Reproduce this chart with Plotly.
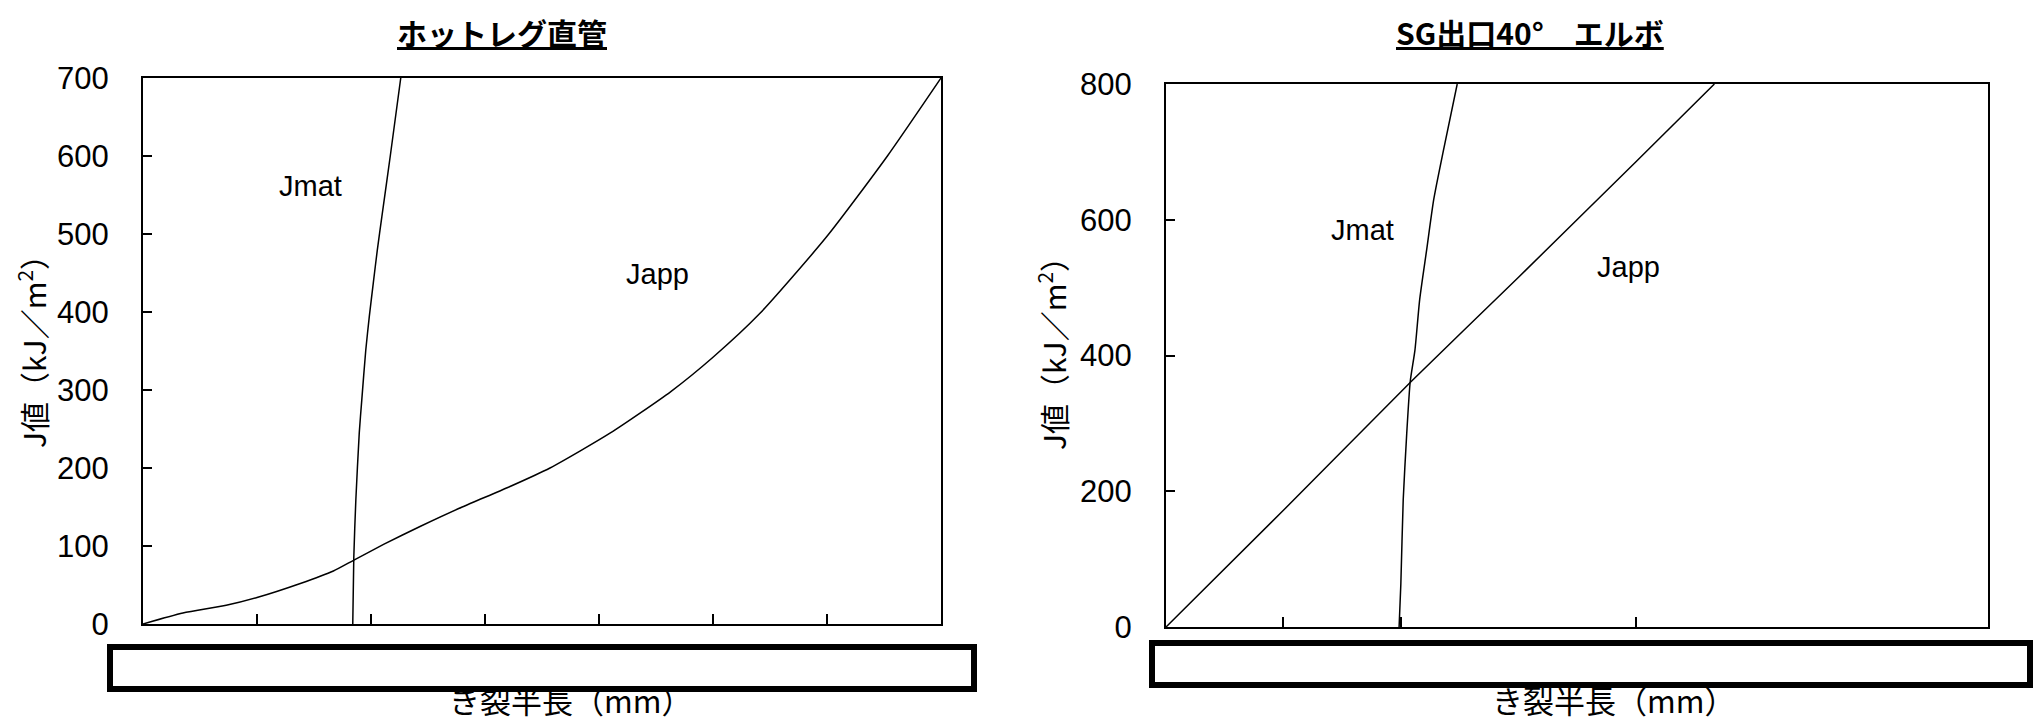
import plotly.graph_objects as go

W, H = 2042, 724
OFF = 8  # the page body margin shifts the figure by this many pixels

# ---- data (x in axis units, y in kJ/m2) ----
left_title = "ホットレグ直管"
right_title = "SG出口40°　エルボ"
x_title = "き裂半長（mm）"
y_title = "J値（kJ／m<sup>2</sup>）"

left_japp_x = [0, 0.35, 0.73, 1.0, 1.38, 1.67, 1.85, 2.11, 2.43, 2.8, 3.2, 3.57, 4.1, 4.63, 5.0, 5.41, 6.0, 6.53, 7.0]
left_japp_y = [0, 14, 24, 34, 52, 68, 82, 102, 125, 150, 175, 200, 245, 298, 342, 398, 497, 600, 700]
left_jmat_x = [1.840, 1.849, 1.867, 1.897, 1.919, 1.954, 1.985, 2.020, 2.055, 2.095, 2.169, 2.261]
left_jmat_y = [0, 85, 159, 245, 287, 351, 394, 437, 479, 522, 600, 700]

right_japp_x = [0, 1.0, 2.09, 3.0, 4.0, 4.67]
right_japp_y = [0, 172, 362, 515, 685, 800]
right_jmat_x = [1.985, 2.0, 2.02, 2.05, 2.08, 2.12, 2.16, 2.22, 2.28, 2.36, 2.48]
right_jmat_y = [0, 64, 187, 285, 362, 408, 482, 556, 630, 700, 800]

left_yticks = [0, 100, 200, 300, 400, 500, 600, 700]
right_yticks = [0, 200, 400, 600, 800]
left_xticks = [1, 2, 3, 4, 5, 6]
right_xticks = [1, 2, 4]


def px_x(p):
    return (p - OFF) / W


def px_y(p):
    return 1 - (p - OFF) / H


fig = go.Figure()
line = dict(color="black", width=1.5, shape="spline", smoothing=0.6)
fig.add_trace(go.Scatter(x=left_japp_x, y=left_japp_y, mode="lines", line=line, xaxis="x", yaxis="y", hoverinfo="skip"))
fig.add_trace(go.Scatter(x=left_jmat_x, y=left_jmat_y, mode="lines", line=line, xaxis="x", yaxis="y", hoverinfo="skip"))
fig.add_trace(go.Scatter(x=right_japp_x, y=right_japp_y, mode="lines", line=line, xaxis="x2", yaxis="y2", hoverinfo="skip"))
fig.add_trace(go.Scatter(x=right_jmat_x, y=right_jmat_y, mode="lines", line=line, xaxis="x2", yaxis="y2", hoverinfo="skip"))

tickfont = dict(family="Liberation Sans, Arial, sans-serif", size=31, color="black")
common_x = dict(range=[0, 7], showgrid=False, zeroline=False, showline=True, linecolor="black",
                linewidth=2, mirror=True, ticks="inside", ticklen=10, tickcolor="black",
                tickwidth=1.5, showticklabels=False, tickmode="array", automargin=False)
common_y = dict(showgrid=False, zeroline=False, showline=True, linecolor="black", linewidth=2,
                mirror=True, ticks="inside", ticklen=9, tickcolor="black", tickwidth=1.5,
                tickfont=tickfont, tickmode="array", ticklabelstandoff=26, automargin=False)

fig.update_layout(
    template="none",
    width=W, height=H, autosize=False,
    margin=dict(l=0, r=0, t=0, b=0, pad=0, autoexpand=False),
    paper_bgcolor="white", plot_bgcolor="white", showlegend=False,
    xaxis=dict(common_x, domain=[px_x(143), px_x(941)], tickvals=left_xticks, anchor="y"),
    yaxis=dict(common_y, domain=[px_y(624), px_y(78)], range=[0, 700], tickvals=left_yticks, anchor="x"),
    xaxis2=dict(common_x, domain=[px_x(1166), px_x(1988)], tickvals=right_xticks, anchor="y2"),
    yaxis2=dict(common_y, domain=[px_y(627), px_y(84)], range=[0, 800], tickvals=right_yticks, anchor="x2"),
)

# white boxes with thick black border covering the x tick labels
for x0, x1, y0, y1 in [(110, 974, 647, 689), (1152, 2030, 643, 685)]:
    fig.add_shape(type="rect", xref="paper", yref="paper",
                  x0=px_x(x0), x1=px_x(x1), y0=px_y(y1), y1=px_y(y0),
                  line=dict(color="black", width=6), fillcolor="white", layer="above")

cjk = "Noto Sans CJK JP, sans-serif"
label_font = dict(family="Liberation Sans, Arial, sans-serif", size=29, color="black")
ann = []
# titles
for txt, xc in [(left_title, 502), (right_title, 1530)]:
    ann.append(dict(text=txt, x=px_x(xc), y=px_y(OFF), xref="paper", yref="paper", showarrow=False,
                    xanchor="center", yanchor="top",
                    font=dict(family=cjk, size=30, color="black", weight="bold", lineposition="under")))
# y titles
for xc, yc in [(32, 344), (1052, 346)]:
    ann.append(dict(text=y_title, x=px_x(xc), y=px_y(yc), xref="paper", yref="paper", showarrow=False,
                    textangle=-90, xanchor="center", yanchor="middle",
                    font=dict(family=cjk, size=30, color="black")))
# x titles
for xc in [570, 1613]:
    ann.append(dict(text=x_title, x=px_x(xc), y=px_y(724), xref="paper", yref="paper", showarrow=False,
                    xanchor="center", yanchor="bottom", font=dict(family=cjk, size=31, color="black")))
# curve labels
ann.append(dict(text="Jmat", x=1.47, y=562, xref="x", yref="y", showarrow=False, font=label_font))
ann.append(dict(text="Japp", x=4.51, y=449, xref="x", yref="y", showarrow=False, font=label_font))
ann.append(dict(text="Jmat", x=1.67, y=585, xref="x2", yref="y2", showarrow=False, font=label_font))
ann.append(dict(text="Japp", x=3.94, y=530, xref="x2", yref="y2", showarrow=False, font=label_font))
fig.update_layout(annotations=ann)

fig.write_html("out.html")
